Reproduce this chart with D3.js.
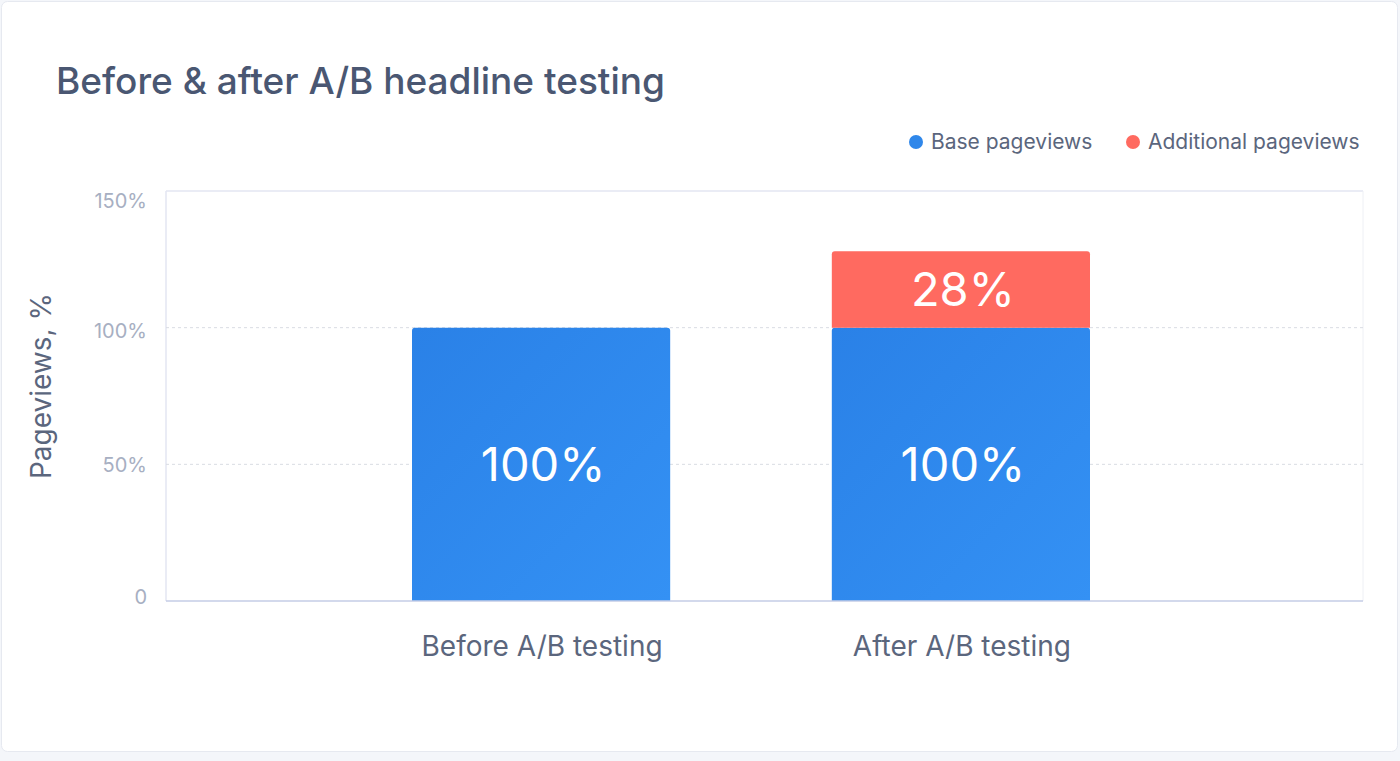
<!DOCTYPE html>
<html>
<head>
<meta charset="utf-8">
<script src="https://cdn.jsdelivr.net/npm/d3@7"></script>
<style>
  body { margin: 0; background: #f4f6fa; font-family: Inter, "Liberation Sans", Arial, sans-serif; }
</style>
</head>
<body>
<div id="chart"></div>
<script>
// chart data
const categories = ["Before A/B testing", "After A/B testing"]
const basePageviews = [100, 100]
const additionalPageviews = [0, 28]
const yTicks = [0, 50, 100, 150]
const seriesNames = ["Base pageviews", "Additional pageviews"]
const seriesColors = ["#2f87ea", "#ff6a60"]

let width = 1400, height = 761
let svg = d3.select("#chart").append("svg")
    .attr("width", width)
    .attr("height", height)

// soft diagonal gradient on the blue bars
let grad = svg.append("defs").append("linearGradient")
    .attr("id", "blueGrad")
    .attr("x1", "0").attr("y1", "0")
    .attr("x2", "1").attr("y2", "1")
grad.append("stop").attr("offset", "0%").attr("stop-color", "#2a81e7")
grad.append("stop").attr("offset", "100%").attr("stop-color", "#3491f4")
let barFills = ["url(#blueGrad)", seriesColors[1]]

// card background
svg.append("rect")
    .attr("x", 1.5).attr("y", 1.5)
    .attr("width", 1396).attr("height", 750)
    .attr("rx", 6)
    .attr("fill", "#fff")
    .attr("stroke", "#e6e9f0")

svg.append("text")
    .attr("x", 56).attr("y", 94)
    .attr("font-size", 37)
    .attr("font-weight", 500)
    .attr("fill", "#4a5772")
    .text("Before & after A/B headline testing")

let plot = { left: 166, right: 1363, top: 191, bottom: 601 }

// bars sit at fixed spots inside the plot, not spread over the whole width
let x = d3.scaleBand()
    .domain(categories)
    .range([412, 1090])
    .paddingInner(0.385)
    .paddingOuter(0)

let y = d3.scaleLinear()
    .domain([0, 150])
    .range([plot.bottom, plot.top])

// frame
svg.append("line")
    .attr("x1", plot.left).attr("x2", plot.right)
    .attr("y1", plot.top).attr("y2", plot.top)
    .attr("stroke", "#e3e6f2").attr("stroke-width", 1.5)
svg.append("line")
    .attr("x1", plot.left).attr("x2", plot.left)
    .attr("y1", plot.top).attr("y2", plot.bottom)
    .attr("stroke", "#e3e6f2").attr("stroke-width", 1.5)
svg.append("line")
    .attr("x1", plot.right).attr("x2", plot.right)
    .attr("y1", plot.top).attr("y2", plot.bottom)
    .attr("stroke", "#eef0f5").attr("stroke-width", 1)

// dashed grid lines
svg.append("g")
    .selectAll("line")
    .data(yTicks.filter(t => t > 0 && t < 150))
    .enter()
    .append("line")
    .attr("x1", plot.left).attr("x2", plot.right)
    .attr("y1", d => y(d)).attr("y2", d => y(d))
    .attr("stroke", "#d9dce3")
    .attr("stroke-dasharray", "3,3")

// y axis labels
let yOffset = { 0: -5, 50: 0, 100: 3, 150: 9 }
let yAxis = d3.axisLeft(y)
    .tickValues(yTicks)
    .tickSize(0)
    .tickPadding(19)
    .tickFormat(d => d === 0 ? "0" : d + "%")
let yg = svg.append("g")
    .attr("transform", `translate(${plot.left},0)`)
    .call(yAxis)
yg.select(".domain").remove()
yg.selectAll("text")
    .attr("font-family", "Inter, Liberation Sans, Arial, sans-serif")
    .attr("font-size", 20)
    .attr("fill", "#a7afc2")
    .attr("y", d => yOffset[d])
    .attr("dy", "0.35em")

svg.append("text")
    .attr("transform", "translate(51,386) rotate(-90)")
    .attr("text-anchor", "middle")
    .attr("font-size", 28)
    .attr("fill", "#5b667d")
    .text("Pageviews, %")

// stacked bars
let stacked = d3.stack().keys([0, 1])
    .value((d, k) => k === 0 ? basePageviews[d] : additionalPageviews[d])(d3.range(categories.length))

let bars = svg.append("g")
stacked.forEach((layer, si) => {
  layer.forEach((seg, ci) => {
    if (seg[1] - seg[0] <= 0) return
    let bx = x(categories[ci]), bw = x.bandwidth()
    let top = y(seg[1]), bottom = y(seg[0])
    let r = 3
    let p = d3.path()
    p.moveTo(bx, bottom)
    p.lineTo(bx, top + r)
    p.quadraticCurveTo(bx, top, bx + r, top)
    p.lineTo(bx + bw - r, top)
    p.quadraticCurveTo(bx + bw, top, bx + bw, top + r)
    p.lineTo(bx + bw, bottom)
    p.closePath()
    bars.append("path")
        .attr("d", p.toString())
        .attr("fill", barFills[si])
    bars.append("text")
        .attr("x", bx + bw / 2 + 2)
        .attr("y", si === 0 ? y(50) : (top + bottom) / 2)
        .attr("dy", "0.36em")
        .attr("text-anchor", "middle")
        .attr("font-size", 47)
        .attr("fill", "#fff")
        .text((seg[1] - seg[0]) + "%")
  })
})

// x axis
svg.append("line")
    .attr("x1", plot.left).attr("x2", plot.right)
    .attr("y1", plot.bottom).attr("y2", plot.bottom)
    .attr("stroke", "#c4cce6").attr("stroke-width", 1.5)

svg.append("g")
    .selectAll("text")
    .data(categories)
    .enter()
    .append("text")
    .attr("x", d => x(d) + x.bandwidth() / 2 + 1)
    .attr("y", 656)
    .attr("text-anchor", "middle")
    .attr("font-size", 28)
    .attr("fill", "#5b667d")
    .text(d => d)

// legend
let legendX = [916, 1133]
let legend = svg.append("g")
seriesNames.forEach((name, i) => {
  legend.append("circle")
      .attr("cx", legendX[i]).attr("cy", 142)
      .attr("r", 7)
      .attr("fill", seriesColors[i])
  legend.append("text")
      .attr("x", legendX[i] + 15).attr("y", 149)
      .attr("font-size", 21)
      .attr("fill", "#5b667d")
      .text(name)
})
</script>
</body>
</html>
